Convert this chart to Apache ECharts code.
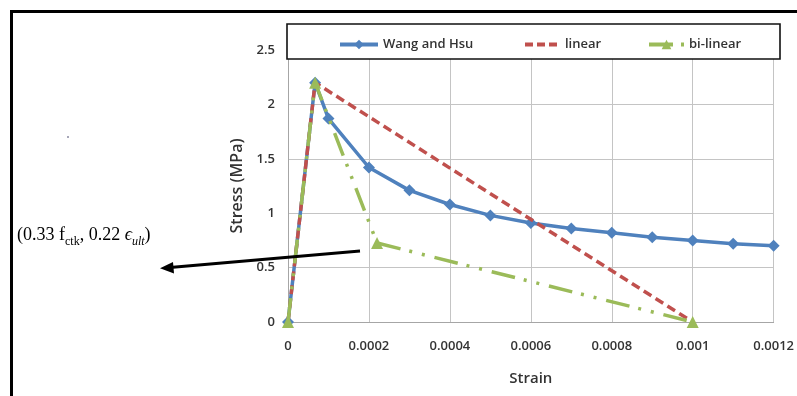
<!DOCTYPE html>
<html>
<head>
<meta charset="utf-8">
<script src="https://cdn.jsdelivr.net/npm/echarts@6/dist/echarts.min.js"></script>
<style>
html,body{margin:0;padding:0;background:#fff;}
#chart{width:797px;height:396px;}
</style>
</head>
<body>
<div id="chart"></div>
<script>
// ---- data ----
const wangStrain = [0, 0.000067, 0.0001, 0.0002, 0.0003, 0.0004, 0.0005, 0.0006, 0.0007, 0.0008, 0.0009, 0.001, 0.0011, 0.0012];
const wangStress = [0, 2.2, 1.87, 1.42, 1.21, 1.08, 0.98, 0.91, 0.86, 0.82, 0.78, 0.75, 0.72, 0.70];
const linearStrain = [0, 0.000067, 0.001];
const linearStress = [0, 2.2, 0];
const biStrain = [0, 0.000067, 0.00022, 0.001];
const biStress = [0, 2.2, 0.726, 0];
const seriesNames = ['Wang and Hsu', 'linear', 'bi-linear'];
const xTicks = [0, 0.0012, 0.0002];   // min, max, interval
const yTicks = [0, 2.5, 0.5];
const annotation = ['(0.33 f', 'ctk', ', 0.22 ', 'ϵ', 'ult', ')'];

const zip = (xs, ys) => xs.map((x, i) => [x, ys[i]]);
const labelFont = { fontFamily: 'Open Sans', fontWeight: 600, fontSize: 13, color: '#333' };
const legendText = { fontFamily: 'Open Sans', fontWeight: 600, fontSize: 13, color: '#333' };
const blue = '#4F81BD', red = '#C0504D', green = '#9BBB59';

const chart = echarts.init(document.getElementById('chart'), null, { renderer: 'canvas' });
chart.setOption({
  animation: false,
  backgroundColor: '#fff',
  grid: { left: 288, right: 18, top: 50, bottom: 74, containLabel: false },
  xAxis: {
    type: 'value', min: xTicks[0], max: xTicks[1], interval: xTicks[2],
    name: 'Strain', nameLocation: 'middle', nameGap: 49,
    nameTextStyle: { fontFamily: 'Open Sans', fontWeight: 600, fontSize: 15, color: '#333' },
    axisLine: { show: true, lineStyle: { color: '#a6a6a6', width: 1 } },
    axisTick: { show: false },
    axisLabel: Object.assign({ margin: 18, formatter: v => v === 0 ? '0' : String(+v.toFixed(4)) }, labelFont),
    splitLine: { show: true, lineStyle: { color: '#c4c4c4', width: 1 } }
  },
  yAxis: {
    type: 'value', min: yTicks[0], max: yTicks[1], interval: yTicks[2],
    name: 'Stress (MPa)', nameLocation: 'middle', nameGap: 40, nameRotate: 90,
    nameTextStyle: { fontFamily: 'Open Sans', fontWeight: 600, fontSize: 16, color: '#333' },
    axisLine: { show: true, lineStyle: { color: '#a6a6a6', width: 1 } },
    axisTick: { show: false },
    axisLabel: Object.assign({ margin: 13, formatter: v => String(+v.toFixed(1)) }, labelFont),
    splitLine: { show: true, lineStyle: { color: '#c4c4c4', width: 1 } }
  },
  legend: [
    { data: [{ name: seriesNames[0] }], left: 333, top: 33, itemWidth: 38, itemHeight: 12, itemGap: 0,
      textStyle: legendText, z: 10, lineStyle: { width: 4, color: blue }, itemStyle: { color: blue } },
    { data: [{ name: seriesNames[1], itemStyle: { opacity: 0 } }], left: 518, top: 33, itemWidth: 35, itemHeight: 12, itemGap: 0,
      textStyle: legendText, z: 10, lineStyle: { width: 4, color: red, type: [8, 4] } },
    { data: [{ name: seriesNames[2] }], left: 642, top: 33, itemWidth: 35, itemHeight: 12, itemGap: 0,
      textStyle: legendText, z: 10, lineStyle: { width: 4, color: green, type: [24, 8, 3, 20] }, itemStyle: { color: green } }
  ],
  series: [
    {
      name: seriesNames[0], type: 'line', data: zip(wangStrain, wangStress),
      symbol: 'diamond', symbolSize: 12,
      lineStyle: { color: blue, width: 3.5 },
      itemStyle: { color: blue }, z: 2
    },
    {
      name: seriesNames[1], type: 'line', data: zip(linearStrain, linearStress),
      symbol: 'none',
      lineStyle: { color: red, width: 3.5, type: [9, 5] },
      itemStyle: { color: red }, z: 3
    },
    {
      name: seriesNames[2], type: 'line', data: zip(biStrain, biStress),
      symbol: 'triangle', symbolSize: 12,
      lineStyle: { color: green, width: 3.5, type: [24, 9, 3, 10, 3, 10] },
      itemStyle: { color: green }, z: 4
    }
  ],
  graphic: [
    // outer black frame (top and left edges)
    { type: 'rect', z: 20, shape: { x: 10, y: 10, width: 787, height: 3 }, style: { fill: '#000' } },
    { type: 'rect', z: 20, shape: { x: 10, y: 10, width: 3, height: 386 }, style: { fill: '#000' } },
    // legend box
    { type: 'rect', z: 5, shape: { x: 287, y: 24, width: 493, height: 35 }, style: { fill: '#fff', stroke: '#111', lineWidth: 1.6 } },
    // speck
    { type: 'circle', z: 20, shape: { cx: 68, cy: 137, r: 1 }, style: { fill: '#8a8aa0' } },
    // annotation text
    {
      type: 'text', z: 20, left: 17, top: 226,
      style: {
        text: '{n|' + annotation[0] + '}{s|' + annotation[1] + '}{n|' + annotation[2] + '}{e|' + annotation[3] + '}{si|' + annotation[4] + '}{n|' + annotation[5] + '}',
        rich: {
          n: { fontFamily: 'Liberation Serif', fontSize: 18, color: '#444', lineHeight: 22, verticalAlign: 'bottom', padding: [0, 0, 2, 0] },
          s: { fontFamily: 'Liberation Serif', fontSize: 12, color: '#444', lineHeight: 22, verticalAlign: 'bottom', padding: [0, 0, -2, 0] },
          e: { fontFamily: 'Liberation Serif', fontStyle: 'italic', fontSize: 18, color: '#444', lineHeight: 22, verticalAlign: 'bottom', padding: [0, 0, 2, 0] },
          si: { fontFamily: 'Liberation Serif', fontStyle: 'italic', fontSize: 12, color: '#444', lineHeight: 22, verticalAlign: 'bottom', padding: [0, 0, -2, 0] }
        }
      }
    },
    // arrow
    { type: 'line', z: 20, shape: { x1: 360, y1: 251, x2: 170, y2: 267.5 }, style: { stroke: '#000', lineWidth: 3 } },
    { type: 'polygon', z: 20, shape: { points: [[160, 268.3], [173, 262], [174, 273.5]] }, style: { fill: '#000' } }
  ]
});
</script>
</body>
</html>
